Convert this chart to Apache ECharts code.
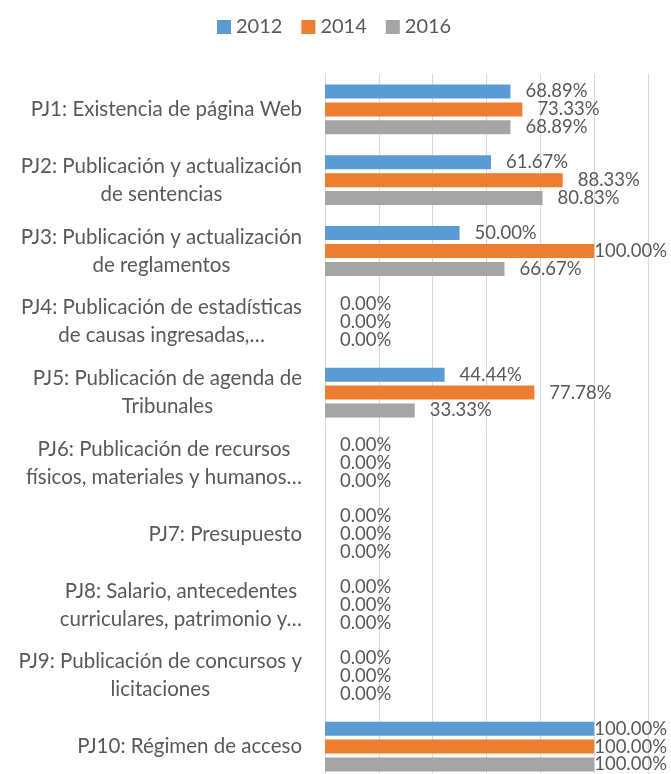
<!DOCTYPE html>
<html>
<head>
<meta charset="utf-8">
<script src="https://cdn.jsdelivr.net/npm/echarts@6/dist/echarts.min.js"></script>
<style>
html,body{margin:0;padding:0;background:#fff;}
#chart{width:671px;height:774px;}
</style>
</head>
<body>
<div id="chart"></div>
<script>
const categories = [
  "PJ1: Existencia de página Web",
  "PJ2: Publicación y actualización\nde sentencias",
  "PJ3: Publicación y actualización\nde reglamentos",
  "PJ4: Publicación de estadísticas\nde causas ingresadas,…",
  "PJ5: Publicación de agenda de\nTribunales",
  "PJ6: Publicación de recursos\nfísicos, materiales y humanos…",
  "PJ7: Presupuesto",
  "PJ8: Salario, antecedentes\ncurriculares, patrimonio y…",
  "PJ9: Publicación de concursos y\nlicitaciones",
  "PJ10: Régimen de acceso"
];
const seriesNames = ["2012", "2014", "2016"];
const values2012 = [68.89, 61.67, 50.00, 0, 44.44, 0, 0, 0, 0, 100];
const values2014 = [73.33, 88.33, 100, 0, 77.78, 0, 0, 0, 0, 100];
const values2016 = [68.89, 80.83, 66.67, 0, 33.33, 0, 0, 0, 0, 100];
const axisMin = 0, axisMax = 120, axisInterval = 20;

const colors = ["#5B9BD5", "#ED7D31", "#A5A5A5"];
const FONT = "Lato";
const TEXT = "#595959";

function makeData(vals) {
  return vals.map(v => v >= 100 ? { value: v, label: { distance: 0 } } : v);
}
function makeSeries(name, vals, color) {
  return {
    name: name,
    type: "bar",
    data: makeData(vals),
    barWidth: 14,
    barGap: "28%",
    itemStyle: { color: color },
    label: {
      show: true,
      position: "right",
      distance: 15,
      color: TEXT,
      fontFamily: FONT,
      fontSize: 18.5,
      formatter: p => p.value.toFixed(2) + "%"
    },
    emphasis: { disabled: true }
  };
}

const chart = echarts.init(document.getElementById("chart"), null, { renderer: "canvas" });
chart.setOption({
  animation: false,
  color: colors,
  textStyle: { fontFamily: FONT },
  legend: {
    data: seriesNames,
    top: 12,
    left: 212,
    itemWidth: 14,
    itemHeight: 14,
    itemGap: 19,
    icon: "rect",
    textStyle: { color: TEXT, fontSize: 20, fontFamily: FONT }
  },
  grid: {
    left: 325,
    right: 23,
    top: 74,
    bottom: -8,
    containLabel: false,
    outerBoundsMode: "none"
  },
  xAxis: {
    type: "value",
    min: axisMin,
    max: axisMax,
    interval: axisInterval,
    axisLabel: { show: false },
    axisLine: { show: false },
    axisTick: { show: false },
    splitLine: { show: true, lineStyle: { color: "#D9D9D9", width: 1 } }
  },
  yAxis: {
    type: "category",
    inverse: true,
    data: categories,
    axisTick: { show: false },
    axisLine: { show: true, lineStyle: { color: "#D9D9D9", width: 1 } },
    axisLabel: {
      margin: 23,
      color: TEXT,
      fontFamily: FONT,
      fontSize: 20.5,
      lineHeight: 28,
      formatter: v => v.split("\n").map(s => "{c|" + s + "}").join("\n"),
      rich: {
        c: { align: "center", color: TEXT, fontFamily: FONT, fontSize: 20.5, lineHeight: 28 }
      }
    }
  },
  series: [
    makeSeries(seriesNames[0], values2012, colors[0]),
    makeSeries(seriesNames[1], values2014, colors[1]),
    makeSeries(seriesNames[2], values2016, colors[2])
  ]
});
</script>
</body>
</html>
